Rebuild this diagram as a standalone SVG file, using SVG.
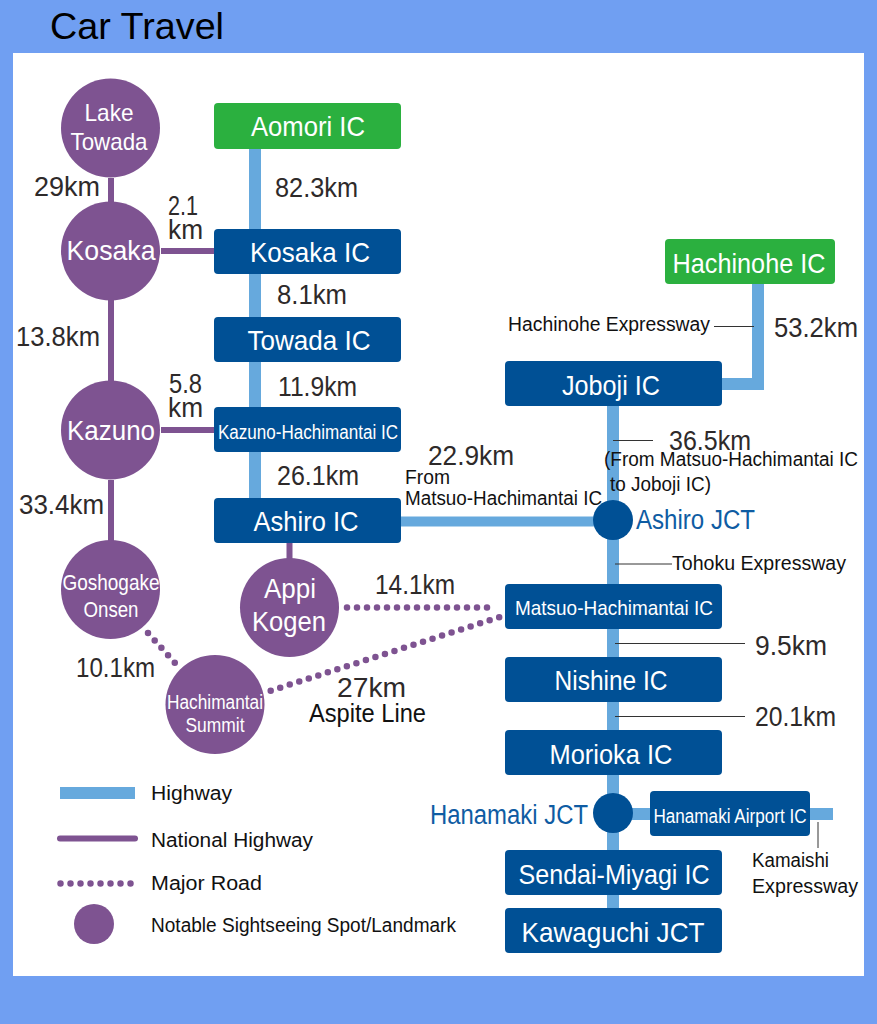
<svg xmlns="http://www.w3.org/2000/svg" width="877" height="1024" viewBox="0 0 877 1024">
<style>
text{font-family:"Liberation Sans",Arial,sans-serif}
.ic{fill:#005095}.st{fill:#2bb03f}.spot{fill:#7e5391}
.w{fill:#fff;text-anchor:middle}
.d{fill:#2e2a2a;font-size:27px}
.b{fill:#111;font-size:20px}
.j{fill:#0f5ca3;font-size:27px}
.hw{stroke:#66a9dd;stroke-width:12;fill:none}
.nh{stroke:#7e5391;stroke-width:6;fill:none}
.mr{stroke:#7e5391;stroke-width:6.5;stroke-linecap:round;stroke-dasharray:0 10;fill:none}
.ld{stroke:#333;stroke-width:1;fill:none}
</style>
<rect width="877" height="1024" fill="#709ff2"/>
<rect x="13" y="53" width="851" height="923" fill="#fff"/>
<text x="50" y="39" font-size="37" fill="#000" textLength="174" lengthAdjust="spacingAndGlyphs">Car Travel</text>
<g id="connectors">
<path class="hw" d="M255 149V499M758 284V384H722M613 406V908M613 814H833"/>
<path class="hw" style="stroke-width:10" d="M401 521.5H613"/>
<path class="nh" d="M111 178V430M161 251H214M161 430H214M111 480V541M289.5 543V560"/>
<path class="mr" d="M347 607.5H497M148 633L175 663M270.7 690.7L503 616"/>
<path class="ld" d="M714 326.5H754M613 440.5H653M615 564H672M615 643.5H745M615 716.5H745M818 822V848"/>
</g>
<g id="aomori"><rect class="st" x="214" y="103" width="187" height="46" rx="4"/><text class="w" x="308" y="136" font-size="28" textLength="114" lengthAdjust="spacingAndGlyphs">Aomori IC</text></g>
<g id="kosaka-ic"><rect class="ic" x="214" y="229" width="187" height="45" rx="4"/><text class="w" x="310" y="262" font-size="28" textLength="120" lengthAdjust="spacingAndGlyphs">Kosaka IC</text></g>
<g id="towada"><rect class="ic" x="214" y="317" width="187" height="45" rx="4"/><text class="w" x="309" y="350" font-size="28" textLength="123" lengthAdjust="spacingAndGlyphs">Towada IC</text></g>
<g id="kazuno-ic"><rect class="ic" x="214" y="407" width="187" height="45" rx="4"/><text class="w" x="308" y="439" font-size="20" textLength="180" lengthAdjust="spacingAndGlyphs">Kazuno-Hachimantai IC</text></g>
<g id="ashiro"><rect class="ic" x="214" y="498" width="187" height="45" rx="4"/><text class="w" x="306" y="531" font-size="28" textLength="105" lengthAdjust="spacingAndGlyphs">Ashiro IC</text></g>
<g id="hachinohe"><rect class="st" x="665" y="239" width="170" height="45" rx="4"/><text class="w" x="749" y="273" font-size="28" textLength="153" lengthAdjust="spacingAndGlyphs">Hachinohe IC</text></g>
<g id="joboji"><rect class="ic" x="505" y="361" width="217" height="45" rx="4"/><text class="w" x="611" y="395" font-size="28" textLength="98" lengthAdjust="spacingAndGlyphs">Joboji IC</text></g>
<g id="matsuo"><rect class="ic" x="505" y="584" width="217" height="45" rx="4"/><text class="w" x="614" y="615" font-size="21" textLength="198" lengthAdjust="spacingAndGlyphs">Matsuo-Hachimantai IC</text></g>
<g id="nishine"><rect class="ic" x="505" y="657" width="217" height="45" rx="4"/><text class="w" x="611" y="690" font-size="28" textLength="113" lengthAdjust="spacingAndGlyphs">Nishine IC</text></g>
<g id="morioka"><rect class="ic" x="505" y="730" width="217" height="45" rx="4"/><text class="w" x="611" y="764" font-size="28" textLength="123" lengthAdjust="spacingAndGlyphs">Morioka IC</text></g>
<g id="airport"><rect class="ic" x="650" y="791" width="160" height="45" rx="4"/><text class="w" x="730" y="823" font-size="20" textLength="153" lengthAdjust="spacingAndGlyphs">Hanamaki Airport IC</text></g>
<g id="sendai"><rect class="ic" x="505" y="850" width="217" height="45" rx="4"/><text class="w" x="614" y="884" font-size="28" textLength="191" lengthAdjust="spacingAndGlyphs">Sendai-Miyagi IC</text></g>
<g id="kawaguchi"><rect class="ic" x="505" y="908" width="217" height="45" rx="4"/><text class="w" x="613" y="942" font-size="28" textLength="183" lengthAdjust="spacingAndGlyphs">Kawaguchi JCT</text></g>
<g id="lake-towada"><circle class="spot" cx="110.5" cy="128" r="49.5"/><text class="w" x="109" y="121" font-size="24" textLength="49" lengthAdjust="spacingAndGlyphs">Lake</text><text class="w" x="109" y="150" font-size="24" textLength="77" lengthAdjust="spacingAndGlyphs">Towada</text></g>
<g id="kosaka"><circle class="spot" cx="110.5" cy="251" r="49.5"/><text class="w" x="111" y="260" font-size="28" textLength="89" lengthAdjust="spacingAndGlyphs">Kosaka</text></g>
<g id="kazuno"><circle class="spot" cx="110.5" cy="430" r="49.5"/><text class="w" x="111" y="440" font-size="28" textLength="88" lengthAdjust="spacingAndGlyphs">Kazuno</text></g>
<g id="goshogake"><circle class="spot" cx="110.5" cy="589.5" r="49.5"/><text class="w" x="111" y="590" font-size="22" textLength="97" lengthAdjust="spacingAndGlyphs">Goshogake</text><text class="w" x="111" y="617" font-size="22" textLength="55" lengthAdjust="spacingAndGlyphs">Onsen</text></g>
<g id="appi"><circle class="spot" cx="289.5" cy="607.5" r="49.5"/><text class="w" x="290" y="598" font-size="28" textLength="52" lengthAdjust="spacingAndGlyphs">Appi</text><text class="w" x="289" y="631" font-size="28" textLength="74" lengthAdjust="spacingAndGlyphs">Kogen</text></g>
<g id="hachimantai"><circle class="spot" cx="215" cy="704.5" r="49.5"/><text class="w" x="215" y="709" font-size="20" textLength="96" lengthAdjust="spacingAndGlyphs">Hachimantai</text><text class="w" x="215" y="732" font-size="20" textLength="59" lengthAdjust="spacingAndGlyphs">Summit</text></g>
<g id="ashiro-jct"><circle class="ic" cx="613" cy="520" r="20"/><text class="j" x="636" y="529" textLength="119" lengthAdjust="spacingAndGlyphs">Ashiro JCT</text></g>
<g id="hanamaki-jct"><circle class="ic" cx="613" cy="813" r="20"/><text class="j" x="430" y="824" textLength="158" lengthAdjust="spacingAndGlyphs">Hanamaki JCT</text></g>
<g id="labels">
<text class="d" x="34" y="196" textLength="66" lengthAdjust="spacingAndGlyphs">29km</text>
<text class="d" x="275" y="197" textLength="83" lengthAdjust="spacingAndGlyphs">82.3km</text>
<text class="d" x="168" y="215" textLength="30" lengthAdjust="spacingAndGlyphs">2.1</text>
<text class="d" x="168" y="239" textLength="35" lengthAdjust="spacingAndGlyphs">km</text>
<text class="d" x="277" y="304" textLength="70" lengthAdjust="spacingAndGlyphs">8.1km</text>
<text class="d" x="16" y="346" textLength="84" lengthAdjust="spacingAndGlyphs">13.8km</text>
<text class="d" x="278" y="396" textLength="79" lengthAdjust="spacingAndGlyphs">11.9km</text>
<text class="d" x="169" y="393" textLength="33" lengthAdjust="spacingAndGlyphs">5.8</text>
<text class="d" x="168" y="417" textLength="35" lengthAdjust="spacingAndGlyphs">km</text>
<text class="d" x="277" y="485" textLength="82" lengthAdjust="spacingAndGlyphs">26.1km</text>
<text class="d" x="19" y="514" textLength="85" lengthAdjust="spacingAndGlyphs">33.4km</text>
<text class="d" x="428" y="465" textLength="86" lengthAdjust="spacingAndGlyphs">22.9km</text>
<text class="d" x="375" y="594" textLength="80" lengthAdjust="spacingAndGlyphs">14.1km</text>
<text class="d" x="76" y="677" textLength="79" lengthAdjust="spacingAndGlyphs">10.1km</text>
<text class="d" x="337" y="697" textLength="69" lengthAdjust="spacingAndGlyphs">27km</text>
<text class="d" x="774" y="337" textLength="84" lengthAdjust="spacingAndGlyphs">53.2km</text>
<text class="d" x="669" y="450" textLength="82" lengthAdjust="spacingAndGlyphs">36.5km</text>
<text class="d" x="755" y="655" textLength="72" lengthAdjust="spacingAndGlyphs">9.5km</text>
<text class="d" x="755" y="726" textLength="81" lengthAdjust="spacingAndGlyphs">20.1km</text>
<text class="b" x="508" y="331" textLength="202" lengthAdjust="spacingAndGlyphs">Hachinohe Expressway</text>
<text class="b" x="604" y="466" textLength="254" lengthAdjust="spacingAndGlyphs">(From Matsuo-Hachimantai IC</text>
<text class="b" x="610" y="491" textLength="101" lengthAdjust="spacingAndGlyphs">to Joboji IC)</text>
<text class="b" x="405" y="484" textLength="45" lengthAdjust="spacingAndGlyphs">From</text>
<text class="b" x="405" y="505" textLength="197" lengthAdjust="spacingAndGlyphs">Matsuo-Hachimantai IC</text>
<text class="b" x="672" y="570" textLength="174" lengthAdjust="spacingAndGlyphs">Tohoku Expressway</text>
<text x="309" y="722" font-size="25" fill="#111" textLength="117" lengthAdjust="spacingAndGlyphs">Aspite Line</text>
<text class="b" x="752" y="867" textLength="77" lengthAdjust="spacingAndGlyphs">Kamaishi</text>
<text class="b" x="752" y="893" textLength="106" lengthAdjust="spacingAndGlyphs">Expressway</text>
</g>
<g id="legend">
<line class="hw" x1="60" y1="793" x2="135" y2="793"/>
<line class="nh" style="stroke-linecap:round" x1="60" y1="838.5" x2="135" y2="838.5"/>
<line class="mr" x1="60.5" y1="883.5" x2="134" y2="883.5"/>
<circle class="spot" cx="94" cy="924" r="20"/>
<text class="b" x="151" y="800" textLength="81" lengthAdjust="spacingAndGlyphs">Highway</text>
<text class="b" x="151" y="847" textLength="162" lengthAdjust="spacingAndGlyphs">National Highway</text>
<text class="b" x="151" y="890" textLength="111" lengthAdjust="spacingAndGlyphs">Major Road</text>
<text class="b" x="151" y="932" textLength="305" lengthAdjust="spacingAndGlyphs">Notable Sightseeing Spot/Landmark</text>
</g>
</svg>
